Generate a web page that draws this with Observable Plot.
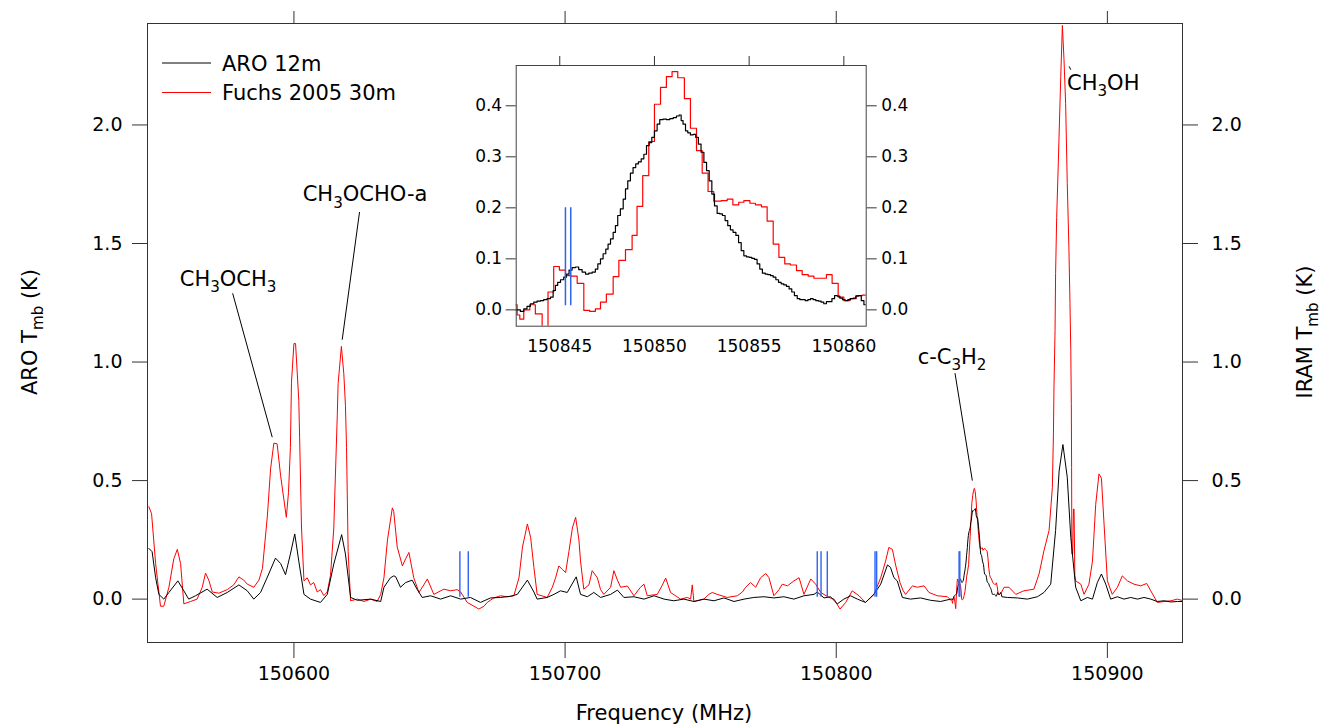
<!DOCTYPE html>
<html><head><meta charset="utf-8">
<script src="https://cdn.jsdelivr.net/npm/d3@7"></script>
<script src="https://cdn.jsdelivr.net/npm/@observablehq/plot@0.6"></script>
<style>
body{margin:0;background:#fff;}
#wrap{position:relative;width:1331px;height:726px;font-family:"DejaVu Sans",sans-serif;}
#main{position:absolute;left:0;top:0;}
#inset{position:absolute;left:470px;top:40px;}
svg{overflow:visible;}
</style></head>
<body><div id="wrap"><div id="main"></div><div id="inset"></div></div>
<script>
// ---------- DATA (frequency in MHz, Tmb in K) ----------
const aroFreq = [150546.5,150547.7,150549.0,150550.2,150552.0,150553.9,150557.2,150559.4,150561.2,150563.7,150568.0,150571.7,150575.4,150579.7,150582.8,150585.2,150587.7,150590.7,150593.2,150595.1,150596.9,150598.7,150600.3,150601.8,150603.7,150606.1,150609.8,150612.3,150614.7,150617.6,150619.0,150620.9,150623.4,150628.3,150632.0,150633.2,150635.6,150636.8,150637.5,150639.3,150641.2,150643.6,150645.5,150647.3,150650.4,150654.1,150657.8,150661.5,150665.1,150668.8,150672.5,150676.2,150679.9,150682.4,150686.1,150688.5,150689.7,150693.4,150695.9,150698.3,150700.8,150704.1,150705.7,150708.2,150710.6,150713.1,150716.8,150719.3,150721.7,150725.4,150729.1,150732.8,150736.5,150740.1,150743.8,150747.5,150751.2,150754.9,150758.6,150762.3,150766.0,150769.6,150773.3,150777.0,150780.7,150784.4,150788.1,150791.8,150793.0,150795.5,150797.9,150800.4,150802.8,150805.3,150807.8,150810.8,150813.9,150816.4,150818.9,150820.0,150821.3,150822.5,150824.4,150827.4,150831.1,150834.8,150838.5,150842.2,
150842.75,150842.92,150843.10,150843.27,150843.45,150843.63,150843.80,150843.98,150844.15,150844.33,150844.51,150844.65,150844.77,150844.89,150845.04,150845.21,150845.35,150845.49,150845.65,150845.83,150846.00,150846.18,150846.36,150846.53,150846.71,150846.88,150847.01,150847.15,150847.29,150847.43,150847.55,150847.68,150847.82,150847.94,150848.06,150848.20,150848.35,150848.47,150848.59,150848.73,150848.87,150849.01,150849.15,150849.30,150849.44,150849.58,150849.72,150849.86,150850.00,150850.14,150850.28,150850.46,150850.63,150850.81,150850.99,150851.16,150851.30,150851.41,150851.51,150851.64,150851.76,150851.90,150852.04,150852.18,150852.32,150852.46,150852.61,150852.75,150852.89,150853.03,150853.17,150853.31,150853.45,150853.59,150853.73,150853.87,150854.01,150854.15,150854.30,150854.44,150854.58,150854.72,150854.86,150855.00,150855.14,150855.28,150855.42,150855.56,150855.70,150855.85,150855.99,150856.13,150856.27,150856.41,150856.55,150856.69,150856.83,150856.97,150857.11,150857.25,150857.39,150857.54,150857.68,150857.82,150857.96,150858.10,150858.24,150858.38,150858.52,150858.66,150858.80,150858.94,150859.08,150859.23,150859.37,150859.51,150859.65,150859.79,150859.93,150860.07,150860.21,150860.35,150860.49,150860.63,150860.77,150860.92,150861.06,
150863.1,150866.8,150870.5,150874.2,150876.6,150879.1,150880.9,150882.2,150883.6,150885.2,150886.5,150888.3,150890.2,150892.6,150894.5,150896.3,150897.8,150899.4,150901.2,150903.7,150906.1,150908.6,150911.1,150913.5,150916.0,150918.4,150920.9,150923.4,150925.8,150927.4];
const aroTmb = [0.214,0.20,0.09,0.02,0.0,0.028,0.077,0.035,0.0,0.014,0.042,0.007,0.028,0.06,0.035,0.0,0.028,0.106,0.173,0.15,0.103,0.19,0.275,0.16,0.02,0.0,-0.014,0.02,0.148,0.272,0.19,0.007,-0.005,0.0,-0.01,0.05,0.09,0.098,0.095,0.05,0.07,0.08,0.04,0.007,0.014,0.0,0.014,0.0,0.007,-0.014,0.005,0.007,0.012,0.02,0.08,0.03,0.0,0.007,0.02,0.035,0.028,0.094,0.02,0.01,0.028,0.007,0.02,0.038,0.007,0.01,0.0,0.014,0.0,-0.007,0.0,-0.01,0.0,-0.007,0.005,-0.01,0.0,0.007,0.01,0.005,0.01,0.0,0.014,0.02,0.03,0.005,0.01,-0.02,0.0,0.014,0.0,-0.014,0.02,0.063,0.144,0.134,0.09,0.077,0.007,0.0,0.005,-0.005,-0.01,0.0,
0.0,-0.003,0.002,0.007,0.012,0.015,0.017,0.018,0.02,0.022,0.025,0.038,0.048,0.054,0.059,0.064,0.07,0.078,0.083,0.084,0.079,0.074,0.07,0.072,0.074,0.08,0.09,0.1,0.11,0.119,0.129,0.139,0.152,0.165,0.185,0.198,0.217,0.237,0.253,0.268,0.279,0.286,0.29,0.296,0.305,0.322,0.328,0.338,0.351,0.364,0.373,0.374,0.373,0.375,0.377,0.38,0.382,0.371,0.364,0.351,0.347,0.343,0.344,0.338,0.325,0.309,0.289,0.273,0.253,0.227,0.204,0.189,0.188,0.185,0.175,0.165,0.157,0.152,0.146,0.132,0.116,0.106,0.104,0.103,0.101,0.099,0.09,0.08,0.072,0.07,0.069,0.067,0.064,0.059,0.054,0.051,0.049,0.046,0.041,0.035,0.028,0.022,0.02,0.02,0.018,0.02,0.022,0.02,0.018,0.017,0.015,0.012,0.016,0.016,0.022,0.028,0.027,0.023,0.02,0.018,0.02,0.022,0.023,0.027,0.028,0.018,0.01,
0.007,0.005,0.0,0.01,0.028,0.063,0.29,0.54,0.652,0.514,0.26,0.05,-0.007,0.007,0.0,0.07,0.106,0.063,0.0,0.01,0.0,0.007,0.0,0.007,0.0,-0.01,-0.007,-0.012,-0.01,-0.01];

const iramFreq = [150546.5,150547.5,150549.0,150550.8,150552.0,150553.9,150555.7,150557.0,150558.2,150559.4,150561.9,150564.3,150566.2,150567.4,150568.6,150569.9,150572.3,150575.4,150577.8,150579.7,150581.5,150582.8,150585.2,150587.1,150588.4,150590.2,150591.4,150592.6,150593.8,150595.1,150597.2,150598.0,150598.7,150599.1,150600.0,150600.6,150601.8,150602.1,150602.8,150603.7,150604.9,150606.1,150607.3,150608.6,150609.8,150611.0,150612.3,150613.5,150614.7,150616.0,150616.3,150617.5,150618.4,150619.0,150619.4,150620.0,150620.9,150623.4,150625.8,150628.3,150630.7,150632.0,150633.2,150634.5,150636.3,150636.8,150638.1,150640.0,150641.2,150642.4,150644.2,150646.1,150647.9,150649.2,150651.6,150655.3,150657.8,150660.2,150661.5,150663.9,150666.4,150668.2,150670.1,150671.3,150673.7,150676.2,150678.7,150681.1,150683.0,150684.3,150686.1,150687.3,150688.5,150689.7,150693.4,150695.3,150696.5,150697.7,150699.0,150700.2,150701.4,150702.7,150703.9,150705.1,150705.7,150706.9,150708.8,150710.0,150711.9,150713.1,150714.3,150716.8,150718.0,150719.3,150720.5,150723.0,150725.4,150727.8,150729.1,150730.3,150734.0,150735.9,150737.1,150738.9,150742.6,150745.1,150746.3,150746.9,150747.5,150751.2,150753.0,150754.3,150756.1,150759.8,150763.5,150765.4,150766.6,150768.4,150770.3,150772.1,150774.0,150775.2,150777.0,150778.9,150780.1,150782.0,150784.4,150786.3,150788.1,150790.6,150792.4,150794.3,150797.3,150799.2,150801.4,150803.5,150805.9,150808.4,150810.8,150813.9,150816.4,150818.2,150819.4,150820.7,150821.9,150823.5,150824.7,150825.6,150828.1,150829.9,150832.4,150834.2,150837.3,150841.0,
150842.75,150842.89,150843.10,150843.42,150843.71,150844.07,150844.38,150844.68,150844.98,150845.30,150845.60,150845.92,150846.27,150846.58,150846.88,150847.15,150847.46,150847.82,150848.12,150848.47,150848.82,150849.08,150849.38,150849.70,150850.00,150850.32,150850.63,150850.93,150851.23,150851.58,150851.90,150852.22,150852.52,150852.83,150853.13,150853.52,150853.84,150854.14,150854.45,150854.72,150855.04,150855.33,150855.65,150855.95,150856.27,150856.57,150856.88,150857.18,150857.50,150857.80,150858.12,150858.42,150858.77,150859.08,150859.38,150859.70,150860.00,150860.32,150860.65,150860.97,
150861.9,150863.7,150866.2,150869.2,150872.9,150874.8,150876.6,150878.5,150879.7,150880.1,150880.3,150880.7,150880.9,150881.3,150881.9,150882.8,150883.4,150884.0,150884.6,150885.2,150885.8,150886.2,150886.5,150886.7,150886.8,150886.9,150887.2,150887.5,150887.7,150888.0,150888.3,150890.2,150891.4,150893.2,150894.5,150895.7,150896.9,150897.8,150898.7,150900.0,150901.8,150903.7,150905.5,150907.4,150909.8,150912.3,150914.5,150916.0,150918.4,150920.9,150923.4,150925.8,150927.4];
const iramTmb = [0.39,0.36,0.15,-0.03,-0.03,0.05,0.17,0.21,0.15,-0.02,-0.01,0.0,0.05,0.11,0.08,0.03,0.025,0.04,0.06,0.094,0.08,0.063,0.05,0.08,0.13,0.35,0.55,0.658,0.655,0.52,0.345,0.45,0.64,0.915,1.078,1.078,0.838,0.683,0.3,0.077,0.09,0.06,0.07,0.03,0.04,0.015,0.03,0.1,0.3,0.78,0.909,1.066,0.95,0.817,0.64,0.2,-0.007,0.0,-0.01,0.0,-0.01,0.02,0.09,0.25,0.385,0.37,0.22,0.14,0.17,0.197,0.09,0.028,0.06,0.085,0.02,0.042,0.035,0.04,0.03,-0.014,-0.03,-0.042,-0.03,-0.014,0.005,0.014,0.01,0.014,0.09,0.22,0.317,0.26,0.134,0.02,0.007,0.05,0.09,0.14,0.125,0.112,0.2,0.30,0.345,0.25,0.16,0.042,0.06,0.12,0.09,0.04,0.02,0.05,0.12,0.08,0.05,0.055,0.014,0.05,0.063,0.014,0.02,0.06,0.089,0.028,0.0,0.007,0.0,0.06,-0.01,0.0,0.02,0.028,0.02,0.007,0.014,0.03,0.05,0.07,0.05,0.09,0.108,0.09,0.014,0.04,0.063,0.056,0.077,0.09,0.02,0.085,0.063,0.028,0.007,0.0,-0.042,-0.014,0.035,0.014,-0.014,0.02,0.09,0.16,0.218,0.21,0.144,0.07,0.035,0.02,0.056,0.05,0.056,0.028,0.014,0.01,
-0.01,-0.018,0.0,0.01,-0.008,-0.04,0.035,0.085,0.078,0.067,0.066,0.052,-0.001,-0.003,0.002,0.015,0.031,0.065,0.097,0.118,0.146,0.203,0.263,0.33,0.403,0.436,0.457,0.467,0.455,0.414,0.356,0.312,0.268,0.232,0.213,0.214,0.217,0.206,0.211,0.214,0.209,0.206,0.202,0.174,0.129,0.103,0.09,0.088,0.077,0.069,0.066,0.062,0.062,0.069,0.052,0.025,0.018,0.022,0.028,0.029,
0.05,0.05,0.02,0.035,0.042,0.106,0.204,0.29,0.47,0.697,0.894,1.134,1.374,1.61,1.84,2.205,2.42,2.275,2.09,1.754,1.486,1.247,1.05,0.824,0.556,0.19,0.19,0.38,0.38,0.1,0.077,0.063,0.02,0.063,0.16,0.40,0.528,0.51,0.33,0.077,0.02,0.05,0.098,0.077,0.063,0.056,0.066,0.035,-0.014,-0.01,-0.007,0.0,-0.005];

// predicted line frequencies (blue markers)
const lineFreq = [150661.2,150664.3,150793.0,150794.4,150796.7,150814.3,150814.9,150845.30,150845.58];
const lineLow = 0.008, lineHigh = 0.2;

// tick values
const xTicks = [150600,150700,150800,150900];
const yTicks = [0,0.5,1.0,1.5,2.0];
const insetXTicks = [150845,150850,150855,150860];
const insetYTicks = [0,0.1,0.2,0.3,0.4];

// annotations (label, text anchor freq / Tmb, leader start and end)
const annLabel = ["CH{3}OCH{3}","CH{3}OCHO-a","c-C{3}H{2}","CH{3}OH"];
const annFreq  = [150575.9,150626.4,150842.9,150885.3];
const annTmb   = [1.35,1.705,1.02,2.175];
const annAnchor= ["middle","middle","middle","start"];
const leadF1 = [150577.4,150624.2,150843.8,150885.9];
const leadT1 = [1.29,1.633,0.953,2.247];
const leadF2 = [150592.0,150617.8,150850.2,150886.5];
const leadT2 = [0.683,1.094,0.50,2.233];

const seriesNames = ["ARO 12m","Fuchs 2005 30m"];
// ---------------------------------------------------------

const FONT = "DejaVu Sans";
const aro = aroFreq.map((f,i)=>({f, t: aroTmb[i]}));
const iram = iramFreq.map((f,i)=>({f, t: iramTmb[i]}));
const leaders = annLabel.map((l,i)=>({x1: leadF1[i], y1: leadT1[i], x2: leadF2[i], y2: leadT2[i]}));
const fmt1 = d3.format(".1f");

const main = Plot.plot({
  width: 1331, height: 726,
  marginLeft: 147, marginRight: 149, marginTop: 23, marginBottom: 84,
  x: {domain: [150546, 150927.7]},
  y: {domain: [-0.183, 2.428]},
  style: {fontFamily: FONT, fontSize: "19px", color: "#000", background: "white", overflow: "visible"},
  marks: [
    Plot.line(iram, {x: "f", y: "t", stroke: "#ff0000", strokeWidth: 1}),
    Plot.line(aro, {x: "f", y: "t", stroke: "#000", strokeWidth: 1}),
    Plot.ruleX(lineFreq, {y1: lineLow, y2: lineHigh, stroke: "#2d63f2", strokeWidth: 1.4}),
    Plot.link(leaders, {x1: "x1", y1: "y1", x2: "x2", y2: "y2", stroke: "#000", strokeWidth: 1}),
    Plot.frame({stroke: "#333"}),
    Plot.axisX({anchor: "bottom", ticks: xTicks, tickFormat: d => String(d), tickSize: 16, tickPadding: 8, label: null, stroke: "#333"}),
    Plot.axisX({anchor: "top", ticks: xTicks, tickFormat: () => "", tickSize: 13, label: null, stroke: "#333"}),
    Plot.axisY({anchor: "left", ticks: yTicks, tickFormat: fmt1, tickSize: 15, tickPadding: 10, label: null, stroke: "#333"}),
    Plot.axisY({anchor: "right", ticks: yTicks, tickFormat: fmt1, tickSize: 15, tickPadding: 14, label: null, stroke: "#333"})
  ]
});
document.getElementById("main").appendChild(main);

// rich text helper: {x} = subscript
function rich(g, str, x, y, size, anchor, rotate) {
  const t = g.append("text")
    .attr("font-family", FONT).attr("font-size", size).attr("fill", "#000")
    .attr("text-anchor", anchor);
  if (rotate) t.attr("transform", `translate(${x},${y}) rotate(-90)`);
  else t.attr("x", x).attr("y", y);
  const parts = str.split(/(\{[^}]*\})/).filter(s => s.length);
  let lowered = false;
  const shift = size * 0.3;
  parts.forEach(p => {
    if (p.startsWith("{")) {
      t.append("tspan").attr("font-size", size * 0.72).attr("dy", lowered ? 0 : shift).text(p.slice(1, -1));
      lowered = true;
    } else {
      t.append("tspan").attr("dy", lowered ? -shift : 0).text(p);
      lowered = false;
    }
  });
  return t;
}

const svg = d3.select(main);
const sx = main.scale("x"), sy = main.scale("y");
const ann = svg.append("g");
annLabel.forEach((l, i) => {
  rich(ann, l, sx.apply(annFreq[i]), sy.apply(annTmb[i]) + 7, 21, annAnchor[i], false);
});
// axis titles
rich(ann, "Frequency (MHz)", 664, 720, 21, "middle", false);
rich(ann, "ARO T{mb} (K)", 37, 332, 21, "middle", true);
rich(ann, "IRAM T{mb} (K)", 1312, 332, 21, "middle", true);
// legend
const leg = svg.append("g");
const legColors = ["#000", "#ff0000"];
seriesNames.forEach((n, i) => {
  const y = 63 + i * 29.5;
  leg.append("line").attr("x1", 162).attr("x2", 211).attr("y1", y).attr("y2", y).attr("stroke", legColors[i]).attr("stroke-width", 1);
  leg.append("text").attr("x", 222).attr("y", y + 7.5).attr("text-anchor", "start")
    .attr("font-family", FONT).attr("font-size", 21).attr("fill", "#000").text(n);
});

// ---------- inset ----------
const inset = Plot.plot({
  width: 440, height: 340,
  marginLeft: 45.7, marginRight: 44.3, marginTop: 25, marginBottom: 54.3,
  x: {domain: [150842.7, 150861.18]},
  y: {domain: [-0.032, 0.479]},
  style: {fontFamily: FONT, fontSize: "17px", color: "#000", background: "transparent", overflow: "visible"},
  marks: [
    Plot.frame({fill: "white", stroke: "none"}),
    Plot.line(iram, {x: "f", y: "t", curve: "step-after", stroke: "#ff0000", strokeWidth: 1.2, clip: true}),
    Plot.line(aro, {x: "f", y: "t", curve: "step-after", stroke: "#000", strokeWidth: 1.2, clip: true}),
    Plot.ruleX(lineFreq, {y1: lineLow, y2: lineHigh, stroke: "#2d63f2", strokeWidth: 1.5, clip: true}),
    Plot.frame({stroke: "#444"}),
    Plot.axisX({anchor: "bottom", ticks: insetXTicks, tickFormat: d => String(d), tickSize: 0, tickPadding: 14, label: null}),
    Plot.axisX({anchor: "top", ticks: insetXTicks, tickFormat: () => "", tickSize: 10, label: null, stroke: "#333"}),
    Plot.axisY({anchor: "left", ticks: insetYTicks, tickFormat: fmt1, tickSize: 10, tickPadding: 4, label: null, stroke: "#333"}),
    Plot.axisY({anchor: "right", ticks: insetYTicks, tickFormat: fmt1, tickSize: 10, tickPadding: 5, label: null, stroke: "#333"})
  ]
});
document.getElementById("inset").appendChild(inset);
</script>
</body></html>
